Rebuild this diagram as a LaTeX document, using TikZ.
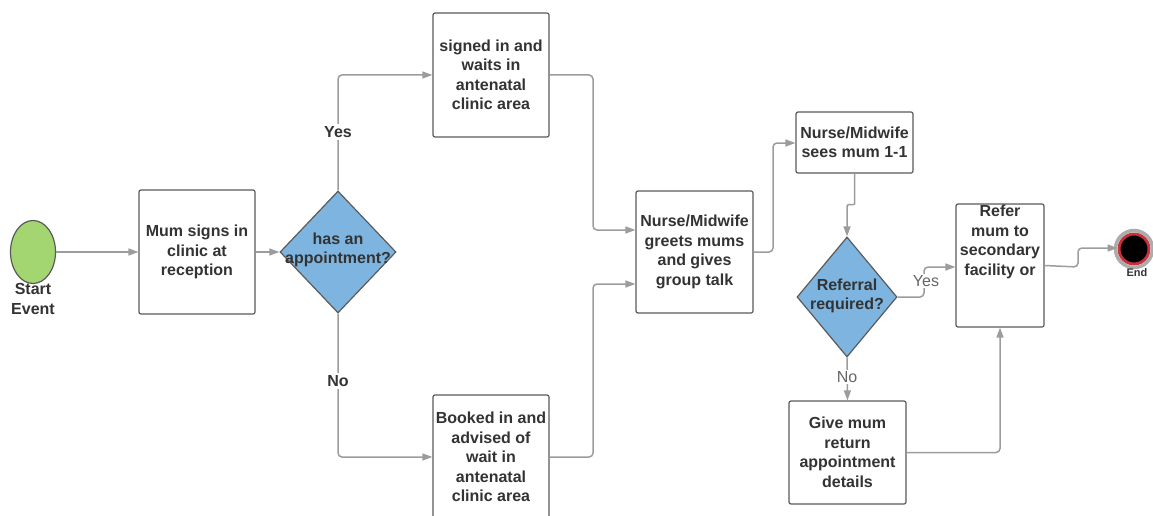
\documentclass[tikz,border=0pt]{standalone}
\usepackage{fontspec}
\setmainfont{Liberation Sans}
\usetikzlibrary{shapes.geometric,arrows.meta}
\definecolor{linegray}{HTML}{9C9C9C}
\definecolor{boxline}{HTML}{5A5A5A}
\definecolor{txt}{HTML}{333333}
\definecolor{dfill}{HTML}{7EB5E0}
\definecolor{gfill}{HTML}{A3D670}
\definecolor{endred}{HTML}{C8303A}
\tikzset{
  box/.style={draw=boxline, line width=1.2pt, rounded corners=2pt, fill=white,
    minimum width=#1, inner sep=2pt, align=center, text=txt,
    font=\fontsize{16}{19.5}\selectfont\bfseries},
  dia/.style={draw=boxline, line width=1.2pt, fill=dfill, diamond, inner sep=0pt},
  txtb/.style={align=center, text=txt, font=\fontsize{16}{19.5}\selectfont\bfseries, inner sep=1pt},
  lab/.style={fill=white, text=txt, inner sep=2pt, font=\fontsize{16}{19}\selectfont\bfseries},
  labl/.style={fill=white, text=gray!80!black, inner sep=1pt, font=\fontsize{16}{19}\selectfont},
  conn/.style={draw=linegray, line width=1.5pt, rounded corners=4pt,
    -{Triangle[length=10pt,width=7pt]}},
}
\begin{document}
\begin{tikzpicture}[x=1pt,y=-1pt]
\useasboundingbox (0,0) rectangle (1153,516);
% start
\node[ellipse, draw=boxline, line width=1.2pt, fill=gfill, minimum width=45, minimum height=63, inner sep=0pt] (start) at (33,252) {};
\node[txtb] (startlab) at (33,299) {Start\\Event};
% boxes
\node[box=116pt, minimum height=124pt] (b1) at (197,252) {Mum signs in\\clinic at\\reception};
\node[dia, minimum width=116pt, minimum height=122pt] (d1) at (338,252) {};
\node[txtb] (d1t) at (338,250) {has an\\appointment?};
\node[box=116pt, minimum height=124pt] (b2) at (491,75) {signed in and\\waits in\\antenatal\\clinic area};
\node[box=116pt, minimum height=124pt] (b3) at (491,457) {Booked in and\\advised of\\wait in\\antenatal\\clinic area};
\node[box=117pt, minimum height=122pt] (b4) at (694.5,252) {Nurse/Midwife\\greets mums\\and gives\\group talk};
\node[box=117pt, minimum height=61pt] (b5) at (854.5,142.5) {Nurse/Midwife\\sees mum 1-1};
\node[dia, minimum width=100pt, minimum height=120pt] (d2) at (847,297) {};
\node[txtb] (d2t) at (847,296) {Referral\\required?};
\node[box=88pt, minimum height=123pt] (b6) at (1000,265.5) {};
\node[txtb] (b6t) at (1000,242) {Refer\\mum to\\secondary\\facility or};
\node[box=117pt, minimum height=103pt] (b7) at (847.5,452.5) {Give mum\\return\\appointment\\details};
% end
\node[circle, fill=black, draw=endred, line width=3pt, minimum size=30pt, inner sep=0pt] (end) at (1134,249) {};
\draw[gray!65, line width=3.5pt] (end.center) circle (18.5pt);
\node[text=txt, font=\fontsize{11}{12}\selectfont\bfseries, inner sep=1pt] (endlab) at (1137,273) {End};
% connectors
\draw[conn] (start) -- (b1);
\draw[conn] (b1) -- (d1);
\draw[conn] (d1.north) |- (b2.west);
\node[lab] (yes1) at (338,132) {Yes};
\draw[conn] (d1.south) |- (b3.west);
\node[lab] (no1) at (338,381) {No};
\coordinate (j1) at (593,230);
\coordinate (j2) at (593,284);
\draw[conn] (b2.east) -| (j1) -- (j1 -| b4.west);
\draw[conn] (b3.east) -| (j2) -- (j2 -| b4.west);
\coordinate (j3) at (773,143);
\draw[conn] (b4.east) -| (j3) -- (j3 -| b5.west);
\draw[conn] (b5.south) -- (854.5,200) .. controls (854.5,206) and (847,203) .. (847,210) -- (d2.north);
\coordinate (j4) at (924,297);
\coordinate (j5) at (924,267);
\draw[conn] (d2.east) -- (j4) -- (j5) -- (j5 -| b6.west);
\node[labl] (yes2) at (926,281) {Yes};
\draw[conn] (d2.south) -- (b7.north);
\node[labl] (no2) at (847,377) {No};
\draw[conn] (b7.east) -| (b6.south);
\coordinate (j6) at (1078,267);
\coordinate (j7) at (1078,248);
\draw[conn] (b6.east) -- (j6) -- (j7) -- (j7 -| end.west);
\end{tikzpicture}
\end{document}
